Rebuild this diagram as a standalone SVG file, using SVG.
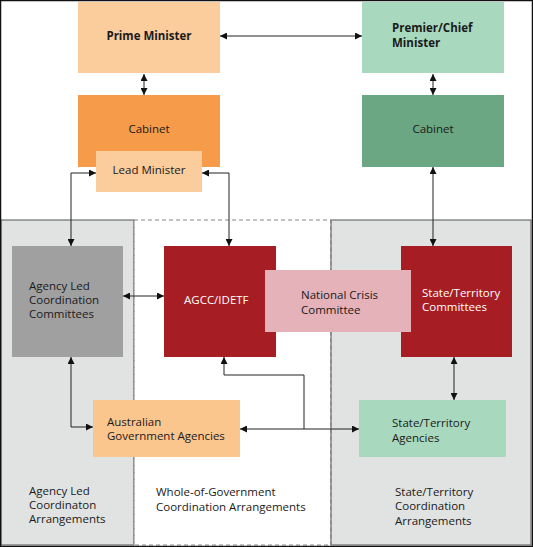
<svg xmlns="http://www.w3.org/2000/svg" width="533" height="547" viewBox="0 0 533 547">
<defs>
<marker id="ah" viewBox="0 0 10 10" refX="10" refY="5" markerWidth="7" markerHeight="7" markerUnits="userSpaceOnUse" orient="auto-start-reverse">
<path d="M0,0 L10,5 L0,10 z" fill="#111"/>
</marker>
<style>
text{font-family:"Open Sans","Noto Sans","Liberation Sans",sans-serif;font-size:11.5px;font-weight:500;fill:#1a1a1a}
.b{font-weight:bold}
.w{fill:#ffffff}
.c{stroke:#222;stroke-width:1;fill:none}
</style>
</defs>
<rect x="0" y="0" width="533" height="547" fill="#ffffff"/>
<g id="regions">
<rect x="1" y="220" width="133" height="325" fill="#e1e2e2" stroke="#555" stroke-width="1"/>
<rect x="134" y="220" width="197" height="325" fill="#ffffff" stroke="#888" stroke-width="1" stroke-dasharray="4,3"/>
<rect x="331" y="220" width="200" height="325" fill="#e1e2e2" stroke="#555" stroke-width="1"/>
<line x1="331" y1="220" x2="331" y2="545" stroke="#888" stroke-dasharray="4,3"/>
<line x1="134" y1="220" x2="134" y2="545" stroke="#888" stroke-dasharray="4,3"/>
</g>
<rect x="0.5" y="0.5" width="532" height="546" fill="none" stroke="#111" stroke-width="1.5"/>
<g id="connectors">
<line class="c" x1="220" y1="36" x2="362" y2="36" marker-start="url(#ah)" marker-end="url(#ah)"/>
<line class="c" x1="144" y1="74" x2="144" y2="95" marker-start="url(#ah)" marker-end="url(#ah)"/>
<line class="c" x1="433" y1="74" x2="433" y2="95" marker-start="url(#ah)" marker-end="url(#ah)"/>
<polyline class="c" points="96,173 71,173 71,246" marker-start="url(#ah)" marker-end="url(#ah)"/>
<polyline class="c" points="202,173 229,173 229,246" marker-start="url(#ah)" marker-end="url(#ah)"/>
<line class="c" x1="433" y1="167" x2="433" y2="246" marker-start="url(#ah)" marker-end="url(#ah)"/>
<line class="c" x1="123" y1="296" x2="164" y2="296" marker-start="url(#ah)" marker-end="url(#ah)"/>
<polyline class="c" points="71,357 71,427 93,427" marker-start="url(#ah)" marker-end="url(#ah)"/>
<line class="c" x1="454" y1="357" x2="454" y2="400" marker-start="url(#ah)" marker-end="url(#ah)"/>
<line class="c" x1="240" y1="429" x2="359" y2="429" marker-start="url(#ah)" marker-end="url(#ah)"/>
<polyline class="c" points="304,429 304,375 224,375 224,357" marker-end="url(#ah)"/>
</g>
<g id="prime-minister">
<rect x="78" y="2" width="142" height="71" fill="#fbcc9c"/>
<text class="b" x="149" y="40" text-anchor="middle">Prime Minister</text>
</g>
<g id="premier">
<rect x="362" y="2" width="142" height="71" fill="#a8d8bd"/>
<text class="b" x="392" y="32">Premier/Chief</text>
<text class="b" x="392" y="47">Minister</text>
</g>
<g id="cabinet-federal">
<rect x="78" y="95" width="142" height="72" fill="#f59b4a"/>
<text x="149" y="133" text-anchor="middle">Cabinet</text>
</g>
<g id="lead-minister">
<rect x="96" y="151" width="106" height="41" fill="#fbcc9c"/>
<text x="149" y="174" text-anchor="middle">Lead Minister</text>
</g>
<g id="cabinet-state">
<rect x="362" y="95" width="142" height="72" fill="#6ca783"/>
<text x="433" y="133" text-anchor="middle">Cabinet</text>
</g>
<g id="agency-led-committees">
<rect x="12" y="246" width="111" height="111" fill="#a0a0a1"/>
<text x="29" y="290">Agency Led</text>
<text x="29" y="304">Coordination</text>
<text x="29" y="318">Committees</text>
</g>
<g id="agcc">
<rect x="164" y="246" width="112" height="111" fill="#a61d24"/>
<text class="w" x="184" y="304">AGCC/IDETF</text>
</g>
<g id="state-committees">
<rect x="401" y="246" width="111" height="111" fill="#a61d24"/>
<text class="w" x="422" y="297">State/Territory</text>
<text class="w" x="422" y="311">Committees</text>
</g>
<g id="national-crisis">
<rect x="265" y="270" width="146" height="62" fill="#e4b2b8"/>
<text x="301" y="299">National Crisis</text>
<text x="301" y="314">Committee</text>
</g>
<g id="aus-gov-agencies">
<rect x="93" y="400" width="147" height="57" fill="#fbc58e"/>
<text x="107" y="426">Australian</text>
<text x="107" y="440">Government Agencies</text>
</g>
<g id="state-agencies">
<rect x="359" y="400" width="147" height="57" fill="#a8d8bd"/>
<text x="392" y="427">State/Territory</text>
<text x="392" y="442">Agencies</text>
</g>
<g id="labels">
<text x="29" y="495">Agency Led</text>
<text x="29" y="509">Coordinaton</text>
<text x="29" y="523">Arrangements</text>
<text x="156" y="496">Whole-of-Government</text>
<text x="156" y="511">Coordination Arrangements</text>
<text x="395" y="496">State/Territory</text>
<text x="395" y="510">Coordination</text>
<text x="395" y="525">Arrangements</text>
</g>
</svg>
